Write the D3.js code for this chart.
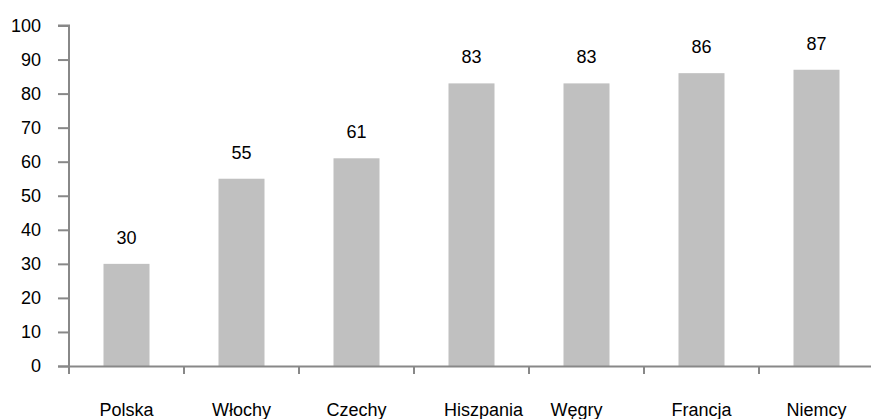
<!DOCTYPE html>
<html>
<head>
<meta charset="utf-8">
<script src="https://cdn.jsdelivr.net/npm/d3@7"></script>
<style>
  html, body { margin: 0; padding: 0; background: #fff; }
  svg { display: block; }
  text { font-family: "Liberation Sans", Arial, sans-serif; fill: #000; }
</style>
</head>
<body>
<svg id="chart" width="871" height="419"></svg>
<script>
const categories = ["Polska", "Włochy", "Czechy", "Hiszpania", "Węgry", "Francja", "Niemcy"];
const values = [30, 55, 61, 83, 83, 86, 87];
const yTicks = [0, 10, 20, 30, 40, 50, 60, 70, 80, 90, 100];

(function () {
const svg = d3.select("#chart");
const W = 871, H = 419;
const mLeft = 69, mRight = 874, mTop = 25.5, mBottom = 366;
const axisColor = "#888888";
const fontSize = 18;

const x = d3.scaleBand().domain(categories).range([mLeft, mRight]).paddingInner(0.6).paddingOuter(0.3);
const y = d3.scaleLinear().domain([0, 100]).range([mBottom, mTop]);

// bars
svg.append("g").selectAll("rect").data(values).join("rect")
  .attr("x", (d, i) => x(categories[i]))
  .attr("width", x.bandwidth())
  .attr("y", d => y(d))
  .attr("height", d => y(0) - y(d))
  .attr("fill", "#c0c0c0");

// value labels
svg.append("g").selectAll("text").data(values).join("text")
  .attr("x", (d, i) => x(categories[i]) + x.bandwidth() / 2)
  .attr("y", d => y(d) - 20)
  .attr("text-anchor", "middle")
  .attr("font-size", fontSize)
  .text(d => d);

// y axis
const yAxis = d3.axisLeft(y).tickValues(yTicks).tickSize(11).tickPadding(17).tickFormat(d3.format("d"));
const gy = svg.append("g").attr("transform", `translate(${mLeft},0)`).call(yAxis);
gy.select(".domain").attr("stroke", axisColor).attr("stroke-width", 2)
  .attr("d", `M-11,${mTop}H0V${mBottom + 8}`);
gy.selectAll(".tick line").attr("stroke", axisColor).attr("stroke-width", 2);
gy.selectAll(".tick text").attr("font-size", fontSize).attr("fill", "#000")
  .attr("font-family", "'Liberation Sans', Arial, sans-serif");

// x axis line
svg.append("line")
  .attr("x1", mLeft - 11).attr("x2", W)
  .attr("y1", mBottom + 0.5).attr("y2", mBottom + 0.5)
  .attr("stroke", axisColor).attr("stroke-width", 2);

// x axis boundary ticks
const boundaries = categories.map(c => x(c) - x.step() * x.paddingInner() / 2).concat([mRight]);
svg.append("g").selectAll("line").data(boundaries).join("line")
  .attr("x1", d => d).attr("x2", d => d)
  .attr("y1", mBottom).attr("y2", mBottom + 8)
  .attr("stroke", axisColor).attr("stroke-width", 2);

// category labels
const labelShift = { "Hiszpania": 12, "Węgry": -10 };
svg.append("g").selectAll("text").data(categories).join("text")
  .attr("x", c => x(c) + x.bandwidth() / 2 + (labelShift[c] || 0))
  .attr("y", 416)
  .attr("text-anchor", "middle")
  .attr("font-size", fontSize)
  .text(c => c);
})();
</script>
</body>
</html>
